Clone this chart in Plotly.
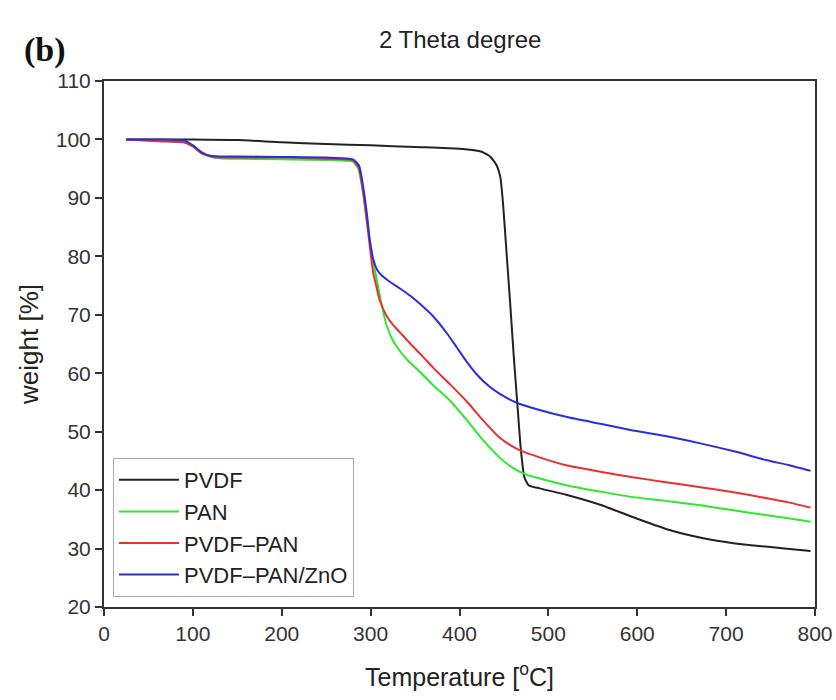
import plotly.graph_objects as go

# PVDF (black)
pvdf_t = [25, 60, 100, 150, 200, 250, 300, 350, 400, 425, 435, 442, 446, 449, 453, 457, 461, 465, 469, 473, 478, 490, 520, 560, 600, 640, 680, 720, 760, 795]
pvdf_w = [100, 100, 100, 99.9, 99.5, 99.2, 99.0, 98.7, 98.4, 97.9, 97.0, 95.5, 93.5, 89.0, 80.5, 72.0, 63.0, 54.9, 47.0, 42.2, 40.8, 40.3, 39.2, 37.4, 35.1, 33.0, 31.6, 30.7, 30.1, 29.6]

# PAN (green)
pan_t = [25, 60, 90, 100, 110, 120, 130, 150, 200, 250, 280, 286, 291, 295, 299, 303, 307, 312, 318, 325, 333, 341, 355, 370, 390, 408, 425, 445, 460, 476, 500, 521, 560, 595, 630, 671, 710, 746, 770, 795]
pan_w = [100, 99.8, 99.5, 98.8, 97.6, 97.0, 96.8, 96.7, 96.6, 96.5, 96.2, 95.0, 91.3, 87.0, 82.8, 79.0, 75.9, 72.0, 68.2, 65.6, 63.8, 62.3, 60.3, 58.0, 55.2, 52.0, 48.8, 45.6, 43.8, 42.6, 41.6, 40.8, 39.7, 38.8, 38.2, 37.4, 36.5, 35.7, 35.2, 34.6]

# PVDF-PAN (red)
pp_t = [25, 60, 90, 100, 110, 120, 130, 150, 200, 250, 280, 287, 292, 296, 300, 303, 307, 310, 318, 325, 333, 345, 359, 370, 390, 408, 425, 445, 458, 468, 490, 521, 560, 595, 630, 671, 710, 746, 770, 795]
pp_w = [100, 99.7, 99.5, 98.8, 97.6, 97.1, 96.9, 96.9, 96.9, 96.7, 96.4, 95.0, 90.5, 85.7, 80.5, 77.1, 74.5, 72.6, 69.8, 68.3, 67.0, 65.0, 62.8, 61.0, 58.0, 55.2, 52.2, 49.0, 47.6, 46.8, 45.6, 44.2, 43.1, 42.2, 41.4, 40.5, 39.6, 38.6, 37.9, 37.0]

# PVDF-PAN/ZnO (blue)
ppz_t = [25, 60, 90, 100, 110, 120, 130, 150, 200, 250, 280, 287, 292, 296, 299, 303, 307, 312, 322, 333, 345, 356, 370, 386, 397, 408, 420, 433, 445, 465, 490, 521, 560, 595, 630, 671, 710, 746, 770, 795]
ppz_w = [100, 100, 99.8, 99.0, 97.8, 97.2, 97.1, 97.1, 97.0, 96.9, 96.6, 95.5, 91.5, 87.0, 82.8, 79.5, 77.8, 76.8, 75.6, 74.5, 73.2, 71.8, 69.8, 66.8, 64.4, 62.0, 59.7, 57.8, 56.5, 54.9, 53.7, 52.5, 51.3, 50.2, 49.3, 48.0, 46.6, 45.1, 44.3, 43.3]

x_ticks = [0, 100, 200, 300, 400, 500, 600, 700, 800]
y_ticks = [20, 30, 40, 50, 60, 70, 80, 90, 100, 110]

series = [
    ("PVDF", pvdf_t, pvdf_w, "#222222"),
    ("PAN", pan_t, pan_w, "#2ee82e"),
    ("PVDF\u2013PAN", pp_t, pp_w, "#e8312e"),
    ("PVDF\u2013PAN/ZnO", ppz_t, ppz_w, "#2a2ee0"),
]

fig = go.Figure()
for name, t, w, c in series:
    fig.add_trace(go.Scatter(x=t, y=w, mode="lines", name=name,
                             line=dict(color=c, width=2, shape="spline", smoothing=0.5)))

FONT = "Arial, Liberation Sans"
axis_common = dict(showline=True, linecolor="#333333", linewidth=2, mirror=True,
                   ticks="outside", ticklen=7, tickwidth=2, tickcolor="#333333",
                   showgrid=False, zeroline=False, automargin=False,
                   tickfont=dict(family=FONT, size=21, color="#333333"))

W, H = 836, 700
L, R, T, B = 104, 21, 81, 93
pw, ph = W - L - R, H - T - B

def px2paper(px, py):
    return (px - L) / pw, (H - B - py) / ph

fig.update_layout(
    width=W, height=H,
    margin=dict(l=L, r=R, t=T, b=B),
    plot_bgcolor="white", paper_bgcolor="white",
    xaxis=dict(range=[0, 800], tickvals=x_ticks,
               title=dict(text="Temperature [<sup>o</sup>C]", standoff=24,
                          font=dict(family=FONT, size=25, color="#222222")),
               **axis_common),
    yaxis=dict(range=[20, 110], tickvals=y_ticks,
               title=dict(text="weight [%]", standoff=10,
                          font=dict(family=FONT, size=26, color="#222222")),
               **axis_common),
    legend=dict(x=px2paper(113, 0)[0], y=px2paper(0, 597)[1], xanchor="left", yanchor="bottom",
                bordercolor="#aaaaaa", borderwidth=1, bgcolor="white",
                font=dict(family=FONT, size=22, color="#222222"),
                itemwidth=60, tracegroupgap=0),
    showlegend=True,
)

tx, ty = px2paper(460, 40)
bx, by = px2paper(45, 50)
fig.add_annotation(text="2 Theta degree", x=tx, y=ty, xref="paper", yref="paper",
                   xanchor="center", yanchor="middle", showarrow=False,
                   font=dict(family=FONT, size=24, color="#222222"))
fig.add_annotation(text="<b>(b)</b>", x=bx, y=by, xref="paper", yref="paper",
                   xanchor="center", yanchor="middle", showarrow=False,
                   font=dict(family="Liberation Serif, Times New Roman", size=34, color="#111111"))

fig.write_html("out.html", config={"displayModeBar": False},
               post_script="document.body.style.margin='0';document.body.style.overflow='hidden';")
